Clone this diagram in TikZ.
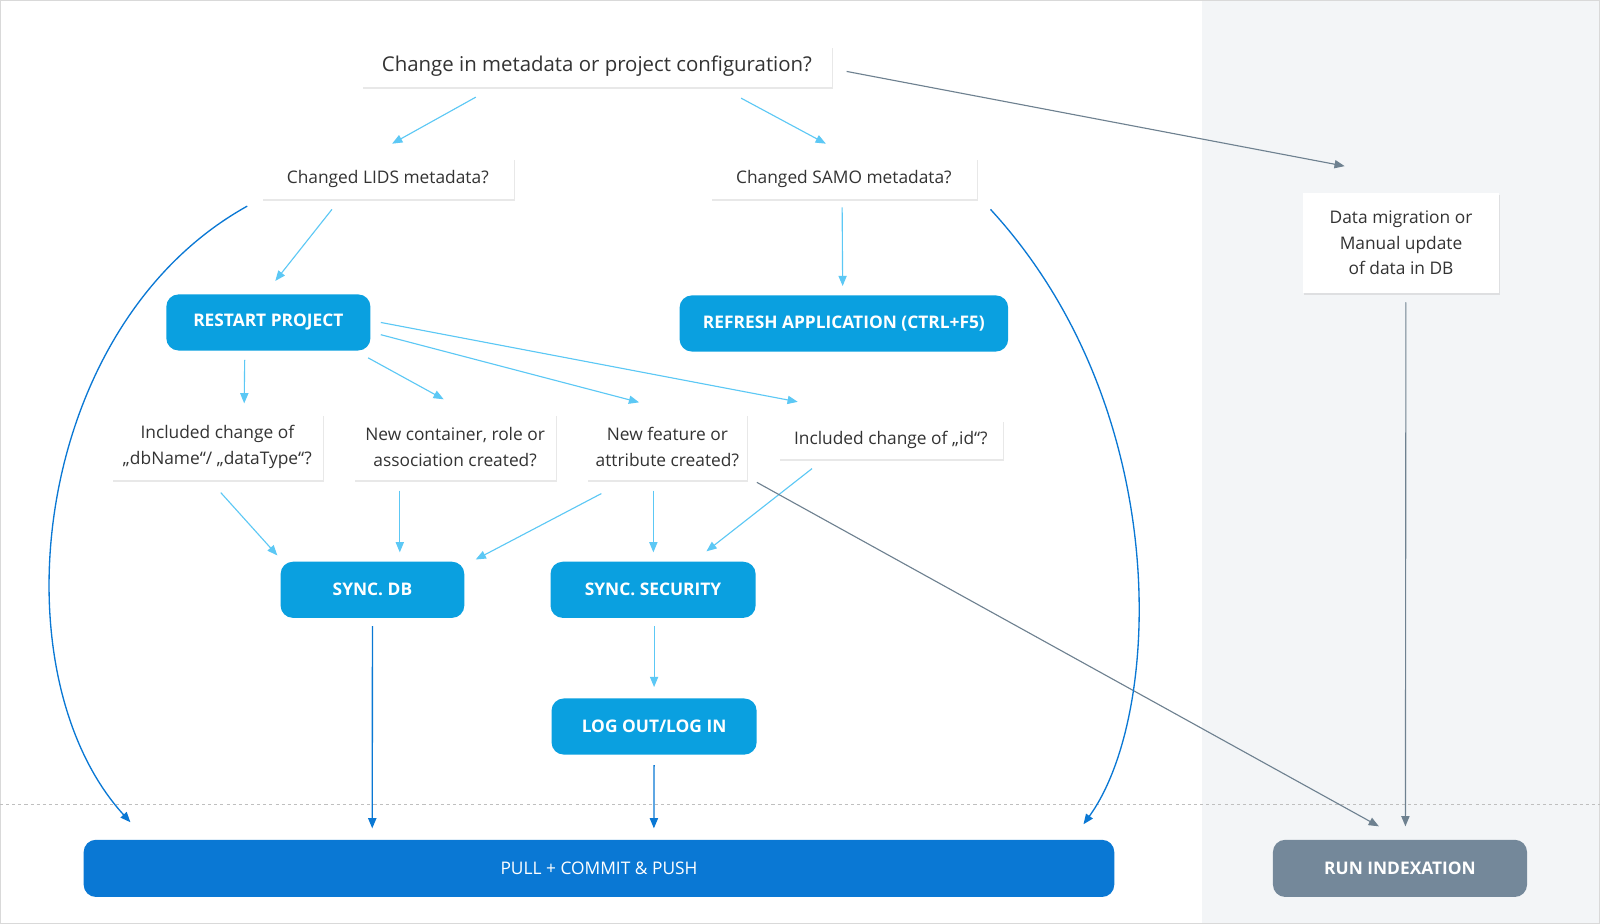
\documentclass[tikz,border=0pt]{standalone}
\usepackage{fontspec}
\setmainfont{Open Sans}
\usetikzlibrary{arrows.meta,shadows,calc}
\definecolor{lb}{HTML}{5CC8F5}
\definecolor{btn}{HTML}{0AA0E0}
\definecolor{db}{HTML}{0A78D4}
\definecolor{gr}{HTML}{6E8190}
\definecolor{grb}{HTML}{74889A}
\definecolor{panel}{HTML}{F3F5F7}
\definecolor{txt}{HTML}{333333}
\begin{document}
\begin{tikzpicture}[x=1pt,y=-1pt,
 q/.style={draw=none,fill=white,text=txt,align=center,inner sep=0pt,font=\fontsize{17}{25}\selectfont,
   drop shadow={opacity=0.18,shadow xshift=1pt,shadow yshift=-2pt}},
 b/.style={rounded corners=12pt,fill=btn,text=white,align=center,font=\fontsize{17}{20}\selectfont\bfseries,inner sep=0pt},
 la/.style={draw=lb,line width=1.1pt,-{Triangle[length=10pt,width=8pt]}},
 ga/.style={draw=gr,line width=1.1pt,-{Triangle[length=10pt,width=8pt]}},
 da/.style={draw=db,line width=1.3pt,-{Triangle[length=10pt,width=8pt]}}]
\useasboundingbox (0,0) rectangle (1568,905);
\fill[white] (0,0) rectangle (1178,905);
\fill[panel] (1178,0) rectangle (1568,905);
\draw[gray!30] (0.5,0.5) rectangle (1567.5,904.5);
\draw[gray!50,dashed] (0,788) -- (1568,788);
% nodes
\node[q,minimum width=461pt,minimum height=40pt,font=\fontsize{20}{24}\selectfont] (top) at (585,65) {Change in metadata or project configuration?};
\node[q,minimum width=247pt,minimum height=40pt] (lids) at (380,175) {Changed LIDS metadata?};
\node[q,minimum width=261pt,minimum height=40pt] (samo) at (827,175) {Changed SAMO metadata?};
\node[q,minimum width=192pt,minimum height=98pt] (mig) at (1373,238) {Data migration or\\Manual update\\of data in DB};
\node[b,minimum width=200pt,minimum height=55pt] (restart) at (263,316) {RESTART PROJECT};
\node[b,minimum width=322pt,minimum height=55pt] (refresh) at (827,317) {REFRESH APPLICATION (CTRL+F5)};
\node[q,minimum width=207pt,minimum height=65pt] (dbn) at (213,438) {Included change of\\„dbName“/ „dataType“?};
\node[q,minimum width=198pt,minimum height=65pt] (cont) at (446,438) {New container, role or\\association created?};
\node[q,minimum width=157pt,minimum height=65pt] (feat) at (654,438) {New feature or\\attribute created?};
\node[q,minimum width=220pt,minimum height=38pt] (idc) at (873,431) {Included change of „id“?};
\node[b,minimum width=180pt,minimum height=55pt] (sdb) at (365,578) {SYNC. DB};
\node[b,minimum width=201pt,minimum height=55pt] (ssec) at (640,578) {SYNC. SECURITY};
\node[b,minimum width=201pt,minimum height=55pt] (log) at (641,712) {LOG OUT/LOG IN};
\node[b,fill=db,minimum width=1010pt,minimum height=56pt,font=\fontsize{17}{20}\selectfont] (pull) at (587,851) {PULL + COMMIT \& PUSH};
\node[b,fill=grb,minimum width=249pt,minimum height=56pt] (run) at (1372,851) {RUN INDEXATION};
% arrows
\draw[la] ($(top.south west)+(112,10)$) -- ($(lids.north west)+(128,-14)$);
\draw[la] ($(top.south west)+(372,11)$) -- ($(samo.north west)+(113,-14)$);
\draw[ga] ($(top.east)+(14,5)$) -- ($(mig.north west)+(41,-26)$);
\draw[la] ($(lids.south west)+(69,10)$) -- ($(restart.north west)+(107,-13)$);
\draw[la] ($(samo.south west)+(129,8)$) -- ($(refresh.north west)+(160,-9)$);
\draw[la] ($(restart.south west)+(77,9)$) -- ($(dbn.north west)+(130,-10)$);
\draw[la] ($(restart.south west)+(198,7)$) -- ($(cont.north west)+(88,-14)$);
\draw[la] ($(restart.east)+(10,12)$) -- ($(feat.north west)+(51,-11)$);
\draw[la] ($(restart.east)+(10,0)$) -- ($(idc.north west)+(19,-18)$);
\draw[la] ($(dbn.south west)+(107,12)$) -- ($(sdb.north west)+(-3,-6)$);
\draw[la] ($(cont.south west)+(45,10)$) -- ($(sdb.north west)+(117,-9)$);
\draw[la] ($(feat.south west)+(14,13)$) -- ($(sdb.north east)+(11,-2)$);
\draw[la] ($(feat.south west)+(65,10)$) -- ($(ssec.north west)+(101,-9)$);
\draw[la] ($(idc.south west)+(33,9)$) -- ($(ssec.north west)+(153,-10)$);
\draw[ga] ($(feat.south east)+(9,2)$) -- ($(run.north west)+(104,-13)$);
\draw[ga] ($(mig.south west)+(101,9)$) -- ($(run.north west)+(130,-13)$);
\draw[la] ($(ssec.south)+(1,8)$) -- ($(log.north)+(0,-11)$);
\draw[da] ($(log.south)+(0,10)$) -- ($(pull.north west)+(559,-11)$);
\draw[da] ($(sdb.south)+(0,8)$) -- ($(pull.north west)+(283,-11)$);
\draw[da] ($(lids.west)+(-14,27)$) .. controls (30,320) and (-5,660) .. ($(pull.north west)+(46,-17)$);
\draw[da] ($(samo.south east)+(13,10)$) .. controls (1150,400) and (1140,700) .. ($(pull.north west)+(980,-15)$);
\end{tikzpicture}
\end{document}
